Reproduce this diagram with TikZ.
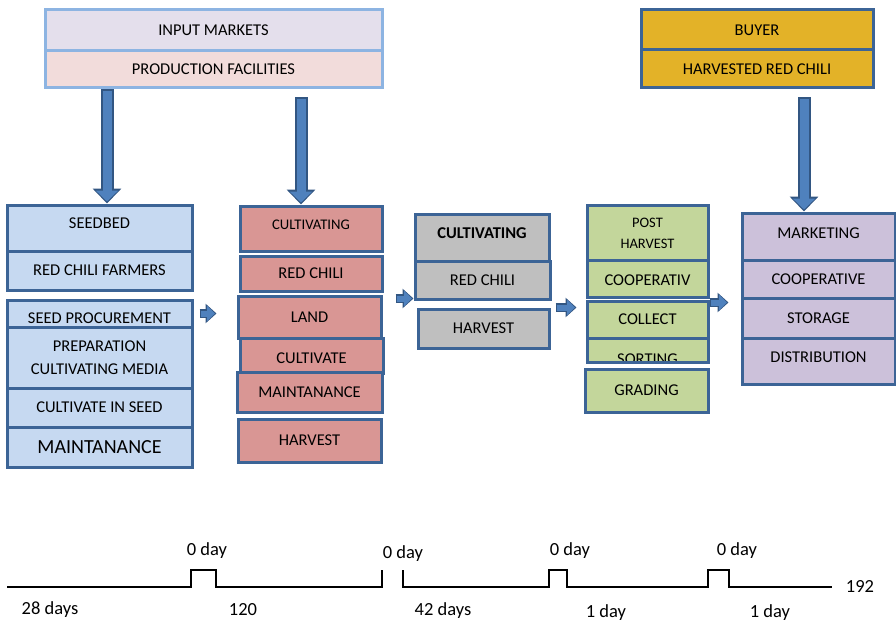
\documentclass[tikz,border=0pt]{standalone}
\usepackage{fontspec}
\setmainfont{Carlito}
\usetikzlibrary{arrows.meta,calc}
\definecolor{boxline}{RGB}{60,100,150}
\definecolor{topline}{RGB}{141,180,226}
\definecolor{arrowface}{RGB}{79,129,189}
\definecolor{arrowline}{RGB}{50,86,130}
\definecolor{blueface}{RGB}{198,217,241}
\definecolor{redface}{RGB}{217,150,148}
\definecolor{grayface}{RGB}{191,191,191}
\definecolor{greenface}{RGB}{195,214,155}
\definecolor{lilacface}{RGB}{204,193,218}
\definecolor{goldface}{RGB}{227,178,40}
\definecolor{inputface}{RGB}{228,223,236}
\definecolor{prodface}{RGB}{242,220,219}
\tikzset{box/.style={draw=boxline,line width=3pt,inner sep=0pt,font=\fontsize{16.5}{20}\selectfont}}
\tikzset{topbox/.style={box,draw=topline,minimum width=337pt}}
\tikzset{bluebox/.style={box,fill=blueface,minimum width=185pt}}
\tikzset{redbox/.style={box,fill=redface}}
\tikzset{graybox/.style={box,fill=grayface}}
\tikzset{greenbox/.style={box,fill=greenface}}
\tikzset{lilacbox/.style={box,fill=lilacface,minimum width=153pt}}
\tikzset{goldbox/.style={box,fill=goldface,minimum width=232pt}}
\tikzset{bigarrow/.style={line width=9pt,draw=arrowface,shorten >=2pt,shorten <=1.5pt,
  -{Triangle[width=22pt,length=11pt]},
  preaction={draw=arrowline,line width=13pt,shorten >=0pt,shorten <=0pt,-{Triangle[width=28pt,length=15pt]}}}}
\tikzset{smallarrow/.style={line width=6pt,draw=arrowface,shorten >=1.5pt,shorten <=1pt,
  -{Triangle[width=15pt,length=8pt]},
  preaction={draw=arrowline,line width=9pt,shorten >=0pt,shorten <=0pt,-{Triangle[width=19pt,length=11pt]}}}}
\tikzset{daytext/.style={font=\fontsize{18.5}{22}\selectfont,inner sep=0pt}}
\begin{document}
\begin{tikzpicture}[x=1pt,y=-1pt]
  \useasboundingbox (0,0) rectangle (896,623);
  % suppliers and buyer on top
  \node[topbox,fill=inputface,minimum height=41pt] (input) at (213.5,30.5) {INPUT MARKETS};
  \node[topbox,fill=prodface,minimum height=37pt] (prod) at (213.5,69.5) {PRODUCTION FACILITIES};
  \node[goldbox,minimum height=40pt] (buyer) at (757,30) {BUYER};
  \node[goldbox,minimum height=38pt] (harvchili) at (757,69) {HARVESTED RED CHILI};
  % seedbed column
  \node[bluebox,minimum height=46pt,text depth=10pt] (seedbed) at (99.5,228) {SEEDBED};
  \node[bluebox,minimum height=39pt] (farmers) at (99.5,270.5) {RED CHILI FARMERS};
  \node[bluebox,minimum height=27pt,text height=20.6pt] (seedproc) at (99.5,313.5) {SEED PROCUREMENT};
  \node[bluebox,minimum height=61pt,align=center,font=\fontsize{16.5}{23}\selectfont] (prep) at (99.5,358) {PREPARATION\\CULTIVATING MEDIA};
  \node[bluebox,minimum height=39pt] (cultseed) at (99.5,407.5) {CULTIVATE IN SEED};
  \node[bluebox,minimum height=40pt,font=\fontsize{20}{24}\selectfont] (maint1) at (99.5,447) {MAINTANANCE};
  % cultivating column
  \node[redbox,minimum width=142pt,minimum height=45pt,text depth=8pt,font=\fontsize{14.7}{18}\selectfont] (cultiv) at (311,228.5) {CULTIVATING};
  \node[redbox,minimum width=142pt,minimum height=35pt] (chili) at (311,273.5) {RED CHILI};
  \node[redbox,minimum width=143pt,minimum height=42pt] (land) at (309.5,317) {LAND};
  \node[redbox,minimum width=143pt,minimum height=35pt,text height=15.6pt] (cultivate) at (311.5,355.5) {CULTIVATE};
  \node[redbox,minimum width=145pt,minimum height=40pt] (maint2) at (309.5,392) {MAINTANANCE};
  \node[redbox,minimum width=143pt,minimum height=43pt] (harv) at (309.5,440.5) {HARVEST};
  % harvest column
  \node[graybox,minimum width=134pt,minimum height=47pt,text depth=8pt,font=\fontsize{16.5}{20}\selectfont\bfseries] (gcult) at (482,237.5) {CULTIVATING};
  \node[graybox,minimum width=135pt,minimum height=38pt] (gchili) at (482.5,280) {RED CHILI};
  \node[graybox,minimum width=131pt,minimum height=39pt] (gharv) at (483.5,328.5) {HARVEST};
  % post harvest column
  \node[greenbox,minimum width=121pt,minimum height=56pt,align=center,font=\fontsize{14.5}{21}\selectfont] (post) at (647.5,233) {POST\\HARVEST};
  \node[greenbox,minimum width=121pt,minimum height=37pt,text height=14.6pt] (coop) at (647.5,278.5) {COOPERATIV};
  \node[greenbox,minimum width=121pt,minimum height=37pt] (collect) at (647.5,319.5) {COLLECT};
  \node[greenbox,minimum width=121pt,minimum height=24pt] (sorting) at (647.5,350) {};
  \begin{scope}
    \clip ([yshift=3pt]sorting.south west) rectangle (sorting.north east);
    \node[box,draw=none,anchor=base] (sorttext) at ([yshift=-0.5pt]sorting.south) {SORTING};
  \end{scope}
  \node[greenbox,minimum width=123pt,minimum height=43pt] (grading) at (646.5,390.5) {GRADING};
  % marketing column
  \node[lilacbox,minimum height=47pt,text depth=6pt] (market) at (818.5,236.5) {MARKETING};
  \node[lilacbox,minimum height=38pt] (coop2) at (818.5,279) {COOPERATIVE};
  \node[lilacbox,minimum height=40pt] (storage) at (818.5,318) {STORAGE};
  \node[lilacbox,minimum height=46pt,text depth=8pt] (distrib) at (818.5,361) {DISTRIBUTION};
  % block arrows
  \draw[bigarrow] (107,0 |- prod.south) -- (107,0 |- seedbed.north);
  \draw[bigarrow] ($(301,0 |- prod.south)+(0,8)$) -- (301,0 |- cultiv.north);
  \draw[bigarrow] ($(804,0 |- harvchili.south)+(0,8)$) -- (804,0 |- market.north);
  \draw[smallarrow] ([xshift=6pt]seedproc.east) -- ([xshift=-20pt]land.west |- seedproc.east);
  \draw[smallarrow] ($(gchili.south west)+(-18,-2)$) -- ($(gchili.south west)+(0,-2)$);
  \draw[smallarrow] ($(coop.south west)+(-30,9)$) -- ($(coop.south west)+(-9,9)$);
  \draw[smallarrow] ($(coop.south east)+(0,4)$) -- ($(coop.south east)+(19,4)$);
  % draw the time line
  \draw[line width=1.3pt] (7,587) -- (191,587) -- (191,570) -- (216,570) -- (216,587) -- (382,587) -- (382,570);
  \draw[line width=1.3pt] (403,570) -- (403,587) -- (549,587) -- (549,570) -- (567,570) -- (567,587)
    -- (708,587) -- (708,570) -- (729,570) -- (729,587) -- (832,587);
  \node[daytext] (d1) at (207,551) {0 day};
  \node[daytext] (d2) at (403,554) {0 day};
  \node[daytext] (d3) at (570,551) {0 day};
  \node[daytext] (d4) at (737,551) {0 day};
  \node[daytext] (end) at (860,586) {192};
  \node[daytext] (p1) at (50,610) {28 days};
  \node[daytext] (p2) at (243,610) {120};
  \node[daytext] (p3) at (443,611) {42 days};
  \node[daytext] (p4) at (606,613) {1 day};
  \node[daytext] (p5) at (770,613) {1 day};
\end{tikzpicture}
\end{document}
